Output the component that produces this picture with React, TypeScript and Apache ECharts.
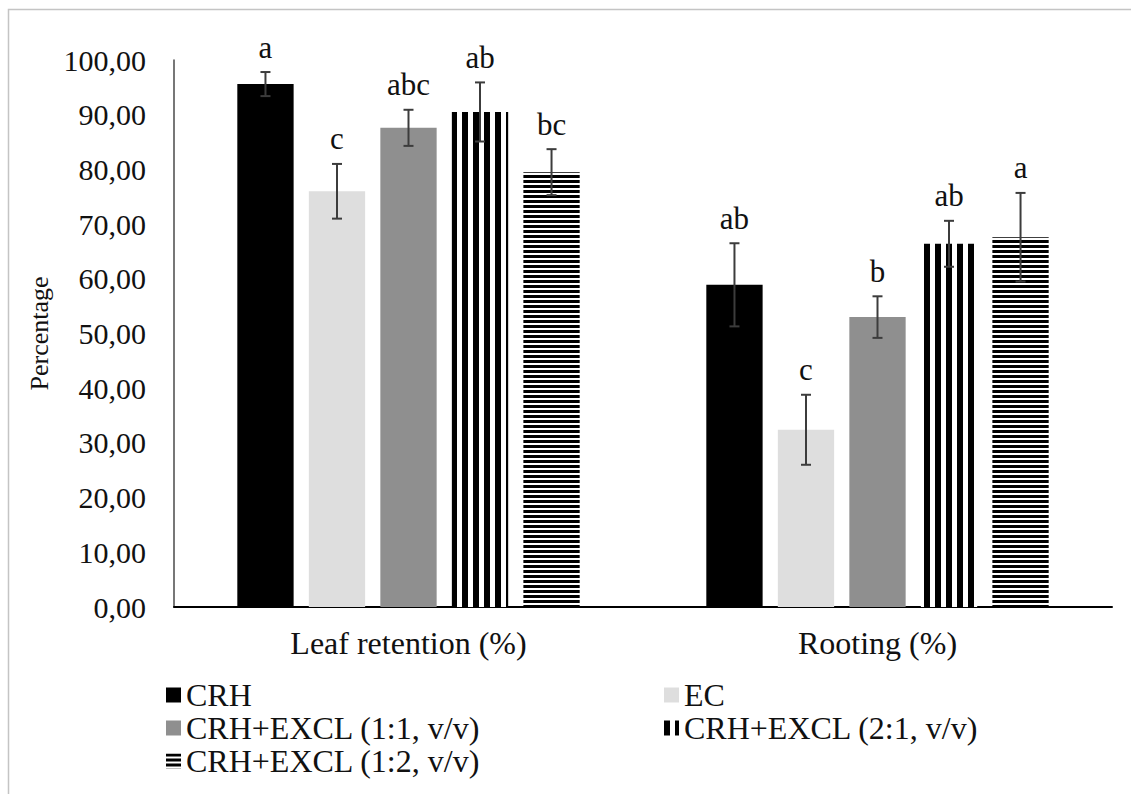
import React, { useEffect, useRef } from "react";
import * as echarts from "echarts";

const categories = ["Leaf retention (%)", "Rooting (%)"];
const treatments = [
  "CRH",
  "EC",
  "CRH+EXCL (1:1, v/v)",
  "CRH+EXCL (2:1, v/v)",
  "CRH+EXCL (1:2, v/v)",
];

const crhValues = [95.6, 58.9];
const ecValues = [76.0, 32.4];
const ex11Values = [87.6, 53.0];
const ex21Values = [90.5, 66.4];
const ex12Values = [79.5, 67.6];

const crhErr = [2.2, 7.6];
const ecErr = [5.0, 6.4];
const ex11Err = [3.3, 3.8];
const ex21Err = [5.4, 4.2];
const ex12Err = [4.2, 8.1];

const crhLetters = ["a", "ab"];
const ecLetters = ["c", "c"];
const ex11Letters = ["abc", "b"];
const ex21Letters = ["ab", "ab"];
const ex12Letters = ["bc", "a"];

const yTicks = [0, 10, 20, 30, 40, 50, 60, 70, 80, 90, 100];

const FONT = "'Liberation Serif', 'Times New Roman', serif";
const TEXT = "#111111";

function makeStripes(vertical: boolean): HTMLCanvasElement {
  const c = document.createElement("canvas");
  const ctx = c.getContext("2d")!;
  if (vertical) {
    c.width = 11;
    c.height = 11;
    ctx.fillStyle = "#ffffff";
    ctx.fillRect(0, 0, 11, 11);
    ctx.fillStyle = "#000000";
    ctx.fillRect(0, 0, 6, 11);
  } else {
    c.width = 5;
    c.height = 5;
    ctx.fillStyle = "#ffffff";
    ctx.fillRect(0, 0, 5, 5);
    ctx.fillStyle = "#000000";
    ctx.fillRect(0, 0, 5, 3);
  }
  return c;
}

export default function App() {
  const ref = useRef<HTMLDivElement>(null);

  useEffect(() => {
    if (!ref.current) return;
    const chart = echarts.init(ref.current, null, { renderer: "svg" });

    const vPattern = { image: makeStripes(true), repeat: "repeat" };
    const hPattern = { image: makeStripes(false), repeat: "repeat" };

    const values = [crhValues, ecValues, ex11Values, ex21Values, ex12Values];
    const errs = [crhErr, ecErr, ex11Err, ex21Err, ex12Err];
    const letters = [crhLetters, ecLetters, ex11Letters, ex21Letters, ex12Letters];
    const colors: any[] = ["#000000", "#dedede", "#8f8f8f", vPattern, hPattern];

    const GAP = 0.27;
    const N = treatments.length;

    const errData: number[][] = [];
    for (let ci = 0; ci < categories.length; ci++) {
      for (let ti = 0; ti < N; ti++) {
        errData.push([ci, ti, values[ti][ci], errs[ti][ci]]);
      }
    }

    const barSeries = treatments.map((name, ti) => ({
      name,
      type: "bar",
      data: values[ti],
      barGap: "27%",
      barCategoryGap: "27%",
      itemStyle: { color: colors[ti] },
      z: 2,
    }));

    const legendText = { fontFamily: FONT, fontSize: 32, color: TEXT, lineHeight: 31 };

    const option: any = {
      animation: false,
      backgroundColor: "#ffffff",
      textStyle: { fontFamily: FONT },
      grid: {
        left: 174,
        right: 19,
        top: 60,
        bottom: 187,
        containLabel: false,
        outerBoundsMode: "none",
      },
      xAxis: {
        type: "category",
        data: categories,
        axisLine: { show: true, lineStyle: { color: "#000000", width: 2 } },
        axisTick: { show: false },
        axisLabel: {
          fontFamily: FONT,
          fontSize: 32,
          color: TEXT,
          margin: 20,
        },
      },
      yAxis: {
        type: "value",
        min: 0,
        max: 100,
        interval: 10,
        name: "Percentage",
        nameLocation: "middle",
        nameGap: 121,
        nameTextStyle: { fontFamily: FONT, fontSize: 26, color: TEXT },
        axisLine: { show: true, lineStyle: { color: "#4a4a4a", width: 1.5 } },
        axisTick: { show: false },
        splitLine: { show: false },
        axisLabel: {
          fontFamily: FONT,
          fontSize: 30,
          color: TEXT,
          margin: 28,
          customValues: yTicks,
          formatter: (v: number) => v.toFixed(2).replace(".", ","),
        },
      },
      legend: [
        {
          left: 166,
          top: 679,
          orient: "vertical",
          padding: 0,
          itemWidth: 15,
          itemHeight: 15,
          itemGap: 1,
          icon: "rect",
          selectedMode: false,
          textStyle: legendText,
          data: [treatments[0], treatments[2], treatments[4]],
        },
        {
          left: 664,
          top: 679,
          orient: "vertical",
          padding: 0,
          itemWidth: 15,
          itemHeight: 15,
          itemGap: 1,
          icon: "rect",
          selectedMode: false,
          textStyle: legendText,
          data: [treatments[1], treatments[3]],
        },
      ],
      graphic: [
        {
          type: "rect",
          left: 6,
          top: 7,
          shape: { width: 1300, height: 900 },
          style: { fill: "none", stroke: "#c4c4c4", lineWidth: 1.5 },
          silent: true,
        },
      ],
      series: [
        ...barSeries,
        {
          type: "custom",
          name: "errors",
          z: 5,
          clip: false,
          data: errData,
          encode: { x: 0, y: 2 },
          renderItem: (params: any, api: any) => {
            const ci = api.value(0);
            const ti = api.value(1);
            const mean = api.value(2);
            const err = api.value(3);
            const center = api.coord([ci, 0])[0];
            const band = api.size([1, 0])[0];
            const used = band * (1 - GAP);
            const w = used / (N + (N - 1) * GAP);
            const x = center - used / 2 + ti * w * (1 + GAP) + w / 2;
            const yTop = api.coord([ci, mean + err])[1];
            const yBot = api.coord([ci, mean - err])[1];
            const cap = 5;
            const ls = { stroke: "#3c3c3c", lineWidth: 2 };
            return {
              type: "group",
              children: [
                { type: "line", shape: { x1: x, y1: yTop, x2: x, y2: yBot }, style: ls },
                { type: "line", shape: { x1: x - cap, y1: yTop, x2: x + cap, y2: yTop }, style: ls },
                { type: "line", shape: { x1: x - cap, y1: yBot, x2: x + cap, y2: yBot }, style: ls },
                {
                  type: "text",
                  x: x,
                  y: yTop - 25,
                  style: {
                    text: letters[ti][ci],
                    fontFamily: FONT,
                    fontSize: 31,
                    fill: TEXT,
                    align: "center",
                    verticalAlign: "middle",
                  },
                },
              ],
            };
          },
        },
      ],
    };

    chart.setOption(option);
    return () => chart.dispose();
  }, []);

  return (
    <div
      ref={ref}
      style={{ position: "absolute", left: 0, top: 0, width: 1131, height: 794 }}
    />
  );
}
